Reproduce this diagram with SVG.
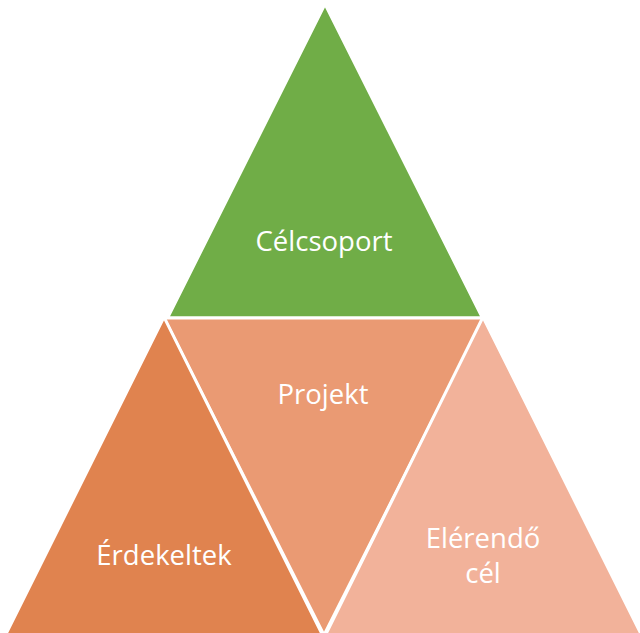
<svg xmlns="http://www.w3.org/2000/svg" width="640" height="633" viewBox="0 0 640 633">
<style>
.tri{stroke:#FFFFFF;stroke-width:3;stroke-linejoin:miter}
.lbl{font-family:"Open Sans","Liberation Sans",sans-serif;font-size:27.5px;fill:#FFFFFF;text-anchor:middle}
</style>
<rect width="640" height="633" fill="#FFFFFF"/>
<g id="connectors"></g>
<g id="celcsoport">
<polygon class="tri" points="325,4 167.5,318 482.5,318" fill="#70AD47"/>
<text class="lbl" x="324" y="251">Célcsoport</text>
</g>
<g id="projekt">
<polygon class="tri" points="164,318 484,318 324,635" fill="#EA9A73"/>
<text class="lbl" x="323" y="404">Projekt</text>
</g>
<g id="erdekeltek">
<polygon class="tri" points="164,317 5,636 323,636" fill="#E0834F"/>
<text class="lbl" x="164" y="565">Érdekeltek</text>
</g>
<g id="elerendo">
<polygon class="tri" points="483,317 325,636 642,636" fill="#F2B29A"/>
<text class="lbl" x="483" y="548">Elérendő</text>
<text class="lbl" x="483" y="583">cél</text>
</g>
</svg>
